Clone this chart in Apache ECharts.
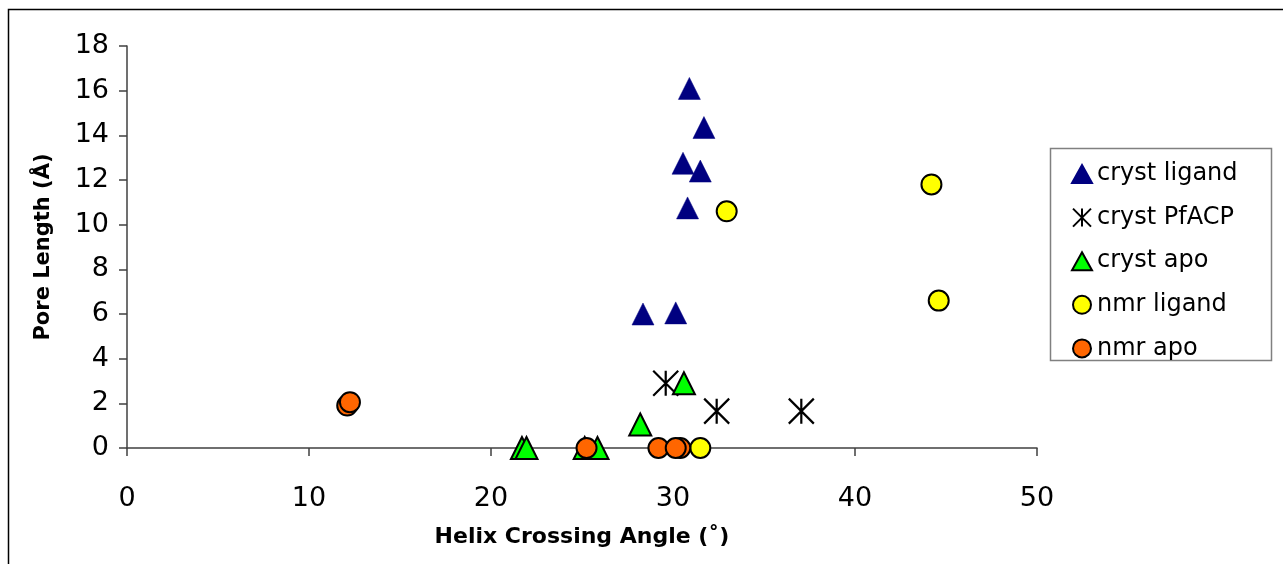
<!DOCTYPE html>
<html>
<head>
<meta charset="utf-8">
<script src="https://cdn.jsdelivr.net/npm/echarts@6/dist/echarts.min.js"></script>
<style>
  html, body { margin: 0; padding: 0; background: #fff; }
  #chart { width: 1283px; height: 564px; }
</style>
</head>
<body>
<div id="chart"></div>
<script>
// Helix crossing angle (degrees) vs pore length (Å), one array per structure group
const crystLigand = [[30.9, 16.1], [31.7, 14.35], [30.55, 12.75], [31.5, 12.4], [30.8, 10.75], [28.35, 6.0], [30.15, 6.05]];
const crystPfACP = [[29.6, 2.9], [32.4, 1.65], [37.05, 1.65]];
const crystApo = [[30.6, 2.9], [28.2, 1.05], [21.7, 0], [21.95, 0], [25.15, 0], [25.85, 0]];
const nmrLigand = [[32.95, 10.6], [44.2, 11.8], [44.6, 6.6], [31.5, 0]];
const nmrApo = [[12.1, 1.9], [12.25, 2.05], [25.25, 0], [29.2, 0], [30.4, 0], [30.15, 0]];

const seriesNames = ['cryst ligand', 'cryst PfACP', 'cryst apo', 'nmr ligand', 'nmr apo'];
const xTicks = [0, 10, 20, 30, 40, 50];
const yTicks = [0, 2, 4, 6, 8, 10, 12, 14, 16, 18];

const FONT = '"DejaVu Sans", Verdana, sans-serif';
const asterisk = 'path://M0,0L10,10M10,0L0,10M5,0L5,10';

const chart = echarts.init(document.getElementById('chart'), null, { renderer: 'canvas' });

chart.setOption({
  backgroundColor: '#ffffff',
  animation: false,
  textStyle: { fontFamily: FONT, color: '#000' },
  graphic: [
    // outer chart frame
    { type: 'rect', silent: true, z: 0,
      shape: { x: 8.5, y: 9.5, width: 1300, height: 600 },
      style: { fill: '#ffffff', stroke: '#000000', lineWidth: 1.5 } },
    // legend box
    { type: 'rect', silent: true, z: 1,
      shape: { x: 1050.5, y: 148.5, width: 221, height: 212 },
      style: { fill: '#ffffff', stroke: '#808080', lineWidth: 1.5 } }
  ],
  grid: {
    left: 127, top: 46, right: 246, bottom: 116,
    show: true, borderColor: '#808080', borderWidth: 2, backgroundColor: 'transparent'
  },
  legend: {
    data: seriesNames,
    orient: 'vertical',
    left: 1071, top: 162,
    padding: 0,
    itemWidth: 20, itemHeight: 18,
    itemGap: 19.6,
    textStyle: { fontFamily: FONT, fontSize: 24, color: '#000', lineHeight: 23 },
    selectedMode: false
  },
  xAxis: {
    type: 'value', min: 0, max: 50, interval: 10,
    name: 'Helix Crossing Angle (˚)', nameLocation: 'middle', nameGap: 78,
    nameTextStyle: { fontFamily: FONT, fontSize: 22, fontWeight: 'bold', color: '#000' },
    axisLine: { onZero: false, lineStyle: { color: '#404040', width: 1.5 } },
    axisTick: { show: true, inside: false, length: 8, lineStyle: { color: '#404040', width: 1.5 } },
    axisLabel: { fontFamily: FONT, fontSize: 27, color: '#000', margin: 37,
      formatter: v => xTicks.includes(v) ? String(v) : '' },
    splitLine: { show: false }
  },
  yAxis: {
    type: 'value', min: 0, max: 18, interval: 2,
    name: 'Pore Length (Å)', nameLocation: 'middle', nameGap: 73,
    nameTextStyle: { fontFamily: FONT, fontSize: 21, fontWeight: 'bold', color: '#000' },
    axisLine: { onZero: false, lineStyle: { color: '#404040', width: 1.5 } },
    axisTick: { show: true, inside: false, length: 8, lineStyle: { color: '#404040', width: 1.5 } },
    axisLabel: { fontFamily: FONT, fontSize: 27, color: '#000', margin: 18,
      formatter: v => yTicks.includes(v) ? String(v) : '' },
    splitLine: { show: false }
  },
  series: [
    { name: seriesNames[0], type: 'scatter', data: crystLigand, symbol: 'triangle', symbolSize: 22,
      itemStyle: { color: '#000080', borderColor: '#000080', borderWidth: 0.5, opacity: 1 } },
    { name: seriesNames[1], type: 'scatter', data: crystPfACP, symbol: asterisk, symbolSize: 25,
      itemStyle: { color: 'rgba(0,0,0,0)', borderColor: '#000000', borderWidth: 2.2, opacity: 1 } },
    { name: seriesNames[2], type: 'scatter', data: crystApo, symbol: 'triangle', symbolSize: 22,
      itemStyle: { color: '#00ff00', borderColor: '#000000', borderWidth: 2, opacity: 1 } },
    { name: seriesNames[3], type: 'scatter', data: nmrLigand, symbol: 'circle', symbolSize: 20,
      itemStyle: { color: '#ffff00', borderColor: '#000000', borderWidth: 2, opacity: 1 } },
    { name: seriesNames[4], type: 'scatter', data: nmrApo, symbol: 'circle', symbolSize: 20,
      itemStyle: { color: '#ff6600', borderColor: '#000000', borderWidth: 2, opacity: 1 } }
  ]
});
</script>
</body>
</html>
